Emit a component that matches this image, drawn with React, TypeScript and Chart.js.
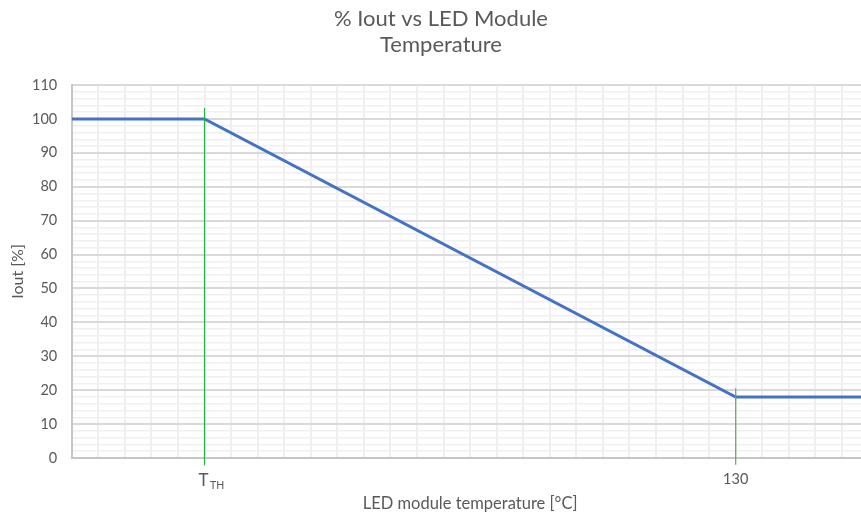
import React, { useEffect, useRef } from "react";
import { Chart, registerables } from "chart.js";

Chart.register(...registerables);

// ---- data ----
const temperatureX = [0, 5, 25, 30]; // positions on the temperature axis (grid units)
const ioutPercent = [100, 100, 18, 18];

const markerX = [5, 25]; // T_TH and 130 °C marker lines
const markerTop = [103.2, 20.6];
const markerBottom = [-2.2, -2.0];
const markerColors = ["#22b24c", "#5fa863"];

const xTickValues = [5, 25];
const xTickMain = ["T", "130"];
const xTickSub = ["TH", ""];

const yMin = 0;
const yMax = 110;
const yMajorStep = 10;
const yMinorStep = 2;
const xMin = 0;
const xMax = 30;
const xStep = 1;

const titleLines = ["% Iout vs LED Module", "Temperature"];
const xAxisTitle = "LED module temperature [°C]";
const yAxisTitle = "Iout [%]";

const FONT = "Lato, 'Noto Sans', sans-serif";
const TEXT = "#595959";

const xLabelPlugin = {
  id: "xLabels",
  afterDraw(chart: any) {
    const ctx = chart.ctx;
    const xs = chart.scales.x;
    ctx.save();
    ctx.fillStyle = TEXT;
    ctx.textBaseline = "alphabetic";
    for (let i = 0; i < xTickValues.length; i++) {
      const px = xs.getPixelForValue(xTickValues[i]);
      if (xTickSub[i]) {
        ctx.font = `17px ${FONT}`;
        const wT = ctx.measureText(xTickMain[i]).width;
        ctx.textAlign = "left";
        ctx.fillText(xTickMain[i], px - wT / 2 - 1, 486);
        ctx.font = `10.5px ${FONT}`;
        ctx.fillText(xTickSub[i], px + wT / 2 + 0.5, 489);
      } else {
        ctx.font = `14.5px ${FONT}`;
        ctx.textAlign = "center";
        ctx.fillText(xTickMain[i], px, 484);
      }
    }
    ctx.restore();
  },
};

export default function App() {
  const ref = useRef<HTMLCanvasElement | null>(null);

  useEffect(() => {
    if (!ref.current) return;
    const mainData = temperatureX.map((x, i) => ({ x, y: ioutPercent[i] }));
    const markerSets = markerX.map((x, i) => ({
      label: "marker" + i,
      data: [
        { x, y: markerTop[i] },
        { x, y: markerBottom[i] },
      ],
      borderColor: markerColors[i],
      borderWidth: 1.2,
      pointRadius: 0,
      clip: false as any,
      order: 0,
    }));
    const chart = new Chart(ref.current, {
      type: "line",
      data: {
        datasets: [
          {
            label: "Iout",
            data: mainData,
            borderColor: "#4472C4",
            borderWidth: 3,
            pointRadius: 0,
            tension: 0,
            order: 1,
          },
          ...markerSets,
        ],
      },
      plugins: [xLabelPlugin],
      options: {
        animation: false,
        responsive: false,
        devicePixelRatio: 1,
        layout: { padding: { left: 13.5, right: 13.5, top: 0, bottom: 0 } },
        plugins: {
          legend: { display: false },
          tooltip: { enabled: false },
          title: {
            display: true,
            text: titleLines,
            color: TEXT,
            font: { family: FONT, size: 22, weight: "normal", lineHeight: 1.1818 },
            padding: { top: 6, bottom: 27 },
          },
        },
        scales: {
          x: {
            type: "linear",
            min: xMin,
            max: xMax,
            afterFit(scale: any) {
              scale.height = 58;
            },
            ticks: { stepSize: xStep, display: false },
            grid: { color: "#efefef", lineWidth: 2, drawTicks: false },
            border: { color: "#c6c6c6", width: 2 },
            title: {
              display: true,
              text: xAxisTitle,
              color: TEXT,
              font: { family: FONT, size: 16.5 },
              padding: { top: 0, bottom: 2 },
            },
          },
          y: {
            type: "linear",
            min: yMin,
            max: yMax,
            afterFit(scale: any) {
              scale.width = 58.2;
            },
            ticks: {
              stepSize: yMinorStep,
              autoSkip: false,
              padding: 14.5,
              color: TEXT,
              font: { family: FONT, size: 14.5 },
              callback: (v: any) => (Number(v) % yMajorStep === 0 ? String(v) : ""),
            },
            grid: {
              drawTicks: false,
              color: (c: any) =>
                c.tick && c.tick.value % yMajorStep === 0 ? "#d9d9d9" : "#f0f0f0",
              lineWidth: (c: any) => (c.tick && c.tick.value % yMajorStep === 0 ? 2 : 1.5),
            },
            border: { color: "#c6c6c6", width: 2 },
            title: {
              display: true,
              text: yAxisTitle,
              color: TEXT,
              font: { family: FONT, size: 16, lineHeight: 0.6 },
              padding: { top: 0, bottom: 0 },
            },
          },
        },
      } as any,
    });
    return () => chart.destroy();
  }, []);

  return (
    <div
      style={{
        position: "fixed",
        left: 0,
        top: 0,
        width: 861,
        height: 516,
        overflow: "hidden",
        background: "#ffffff",
      }}
    >
      <canvas ref={ref} width={882} height={516} style={{ display: "block" }} />
    </div>
  );
}
